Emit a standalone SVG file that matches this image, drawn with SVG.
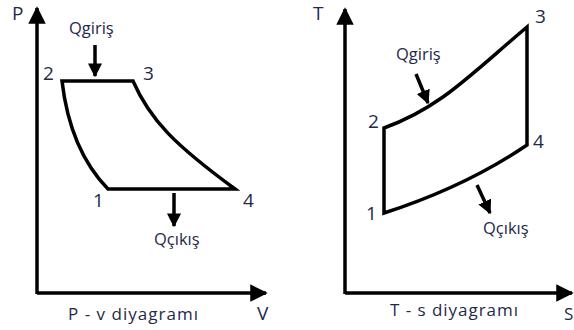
<svg xmlns="http://www.w3.org/2000/svg" width="574" height="330" viewBox="0 0 574 330">
<style>
.ax{stroke:#000;stroke-width:3.5;fill:none}
.cy{stroke:#000;stroke-width:3.5;fill:none;stroke-linejoin:miter}
.ar{stroke:#000;stroke-width:3.5;fill:none}
.t{font-family:"Open Sans","Liberation Sans",sans-serif;fill:#1e2a48}
.n{font-size:19px}
.q{font-size:16.5px}
.c{font-size:17px}
</style>
<defs>
<marker id="ah" viewBox="0 0 10 10" refX="9" refY="5" markerWidth="5" markerHeight="5" markerUnits="strokeWidth" orient="auto"><path d="M0,0L10,5L0,10Z" fill="#000"/></marker>
<marker id="sh" viewBox="0 0 10 10" refX="9" refY="5" markerWidth="4" markerHeight="4" markerUnits="strokeWidth" orient="auto"><path d="M0,0L10,5L0,10Z" fill="#000"/></marker>
</defs>
<g id="connectors">
<path class="ax" d="M37,294V8" marker-end="url(#ah)"/>
<path class="ax" d="M37,293H266" marker-end="url(#ah)"/>
<path class="ax" d="M345,294V9" marker-end="url(#ah)"/>
<path class="ax" d="M345,293H572" marker-end="url(#ah)"/>
<path class="ar" d="M95,45V76" marker-end="url(#sh)"/>
<path class="ar" d="M174,193V226" marker-end="url(#sh)"/>
<path class="ar" d="M416,74L428,103" marker-end="url(#sh)"/>
<path class="ar" d="M477,185L490,213" marker-end="url(#sh)"/>
</g>
<g id="pv-cycle">
<path class="cy" d="M62,81H133C150,120 175,145 235,189H108Q70,150 62,81Z"/>
</g>
<g id="ts-cycle">
<path class="cy" d="M384,128C440,108 470,75 527,27V145C490,170 440,195 384,213Z"/>
</g>
<g id="labels">
<text class="t n" x="12" y="20">P</text>
<text class="t n" x="313" y="20">T</text>
<text class="t q" x="69" y="34">Qgiriş</text>
<text class="t n" x="43" y="80">2</text>
<text class="t n" x="143" y="80">3</text>
<text class="t n" x="93" y="207">1</text>
<text class="t n" x="243" y="207">4</text>
<text class="t q" x="154" y="245">Qçıkış</text>
<text class="t c" x="68" y="320" textLength="130">P - v diyagramı</text>
<text class="t n" x="257" y="320">V</text>
<text class="t n" x="535" y="23">3</text>
<text class="t n" x="533" y="148">4</text>
<text class="t n" x="368" y="128">2</text>
<text class="t n" x="366" y="220">1</text>
<text class="t q" x="396" y="60">Qgiriş</text>
<text class="t q" x="483" y="234">Qçıkış</text>
<text class="t c" x="390" y="316" textLength="128">T - s diyagramı</text>
<text class="t" x="564" y="320" font-size="17">S</text>
</g>
</svg>
